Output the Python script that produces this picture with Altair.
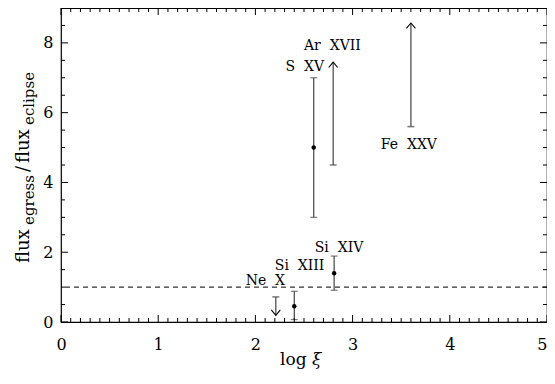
import altair as alt
import pandas as pd
import numpy as np

FONT = "DejaVu Serif"
LINE = "#444444"
SP = "\u00a0\u00a0"

# ---- data ----
det_ion = ["Si XIII", "Si XIV", "S XV"]
det_logxi = [2.40, 2.81, 2.60]
det_ratio = [0.45, 1.40, 5.00]
det_low = [0.07, 0.91, 3.00]
det_high = [0.88, 1.89, 7.00]

lim_ion = ["Ne X", "Ar XVII", "Fe XXV"]
lim_logxi = [2.21, 2.80, 3.60]
lim_bound = [0.72, 4.50, 5.60]
lim_tip = [0.19, 7.45, 8.57]
lim_dir = ["down", "up", "up"]

lab_text = ["Ne" + SP + "X", "Si" + SP + "XIII", "Si" + SP + "XIV",
            "S" + SP + "XV", "Ar" + SP + "XVII", "Fe" + SP + "XXV"]
lab_x = [1.90, 2.20, 2.61, 2.31, 2.50, 3.29]
lab_y = [1.07, 1.50, 2.00, 7.19, 7.81, 4.95]

unity = [1.0]

x_major = [0, 1, 2, 3, 4, 5]
y_major = [0, 2, 4, 6, 8]
x_minor = [round(v, 1) for v in np.arange(0, 5.01, 0.1) if abs(v - round(v)) > 1e-6]
y_minor = [v for v in np.arange(0, 9.01, 0.5) if v not in y_major]

W, H = 486, 314

det = pd.DataFrame({"ion": det_ion, "x": det_logxi, "r": det_ratio, "lo": det_low, "hi": det_high})
caps = pd.DataFrame({"x": det_logxi * 2, "y": det_low + det_high})
lim = pd.DataFrame({"ion": lim_ion, "x": lim_logxi, "b": lim_bound, "t": lim_tip, "d": lim_dir})
labs = pd.DataFrame({"t": lab_text, "x": lab_x, "y": lab_y})

XS = alt.Scale(domain=[0, 5], nice=False, zero=False)
YS = alt.Scale(domain=[0, 9], nice=False, zero=False)
xaxis = alt.Axis(values=x_major, ticks=False, domain=False, grid=False, labelFont=FONT,
                 labelFontSize=16, labelPadding=14, labelColor="black", title=None,
                 format="d", labelFlush=False, labelOverlap=False,
                 labelAlign={"condition": {"test": "datum.value == 5", "value": "right"},
                             "value": "center"})
yaxis = alt.Axis(values=y_major, ticks=False, domain=False, grid=False, labelFont=FONT,
                 labelFontSize=16, labelPadding=8, labelColor="black", title=None,
                 format="d", labelOverlap=False)


def xe(f):
    return alt.X(f, type="quantitative", scale=XS, axis=xaxis)


def ye(f):
    return alt.Y(f, type="quantitative", scale=YS, axis=yaxis)


layers = []

# dashed unity line
layers.append(alt.Chart(pd.DataFrame({"y": unity})).mark_rule(
    color="black", strokeDash=[5, 4], strokeWidth=1).encode(y=ye("y")))

# error bars
layers.append(alt.Chart(det).mark_rule(color=LINE, strokeWidth=1.2).encode(
    x=xe("x"), y=ye("lo"), y2="hi"))
layers.append(alt.Chart(caps).mark_tick(color=LINE, orient="horizontal", size=7, thickness=1.2).encode(
    x=xe("x"), y=ye("y")))
layers.append(alt.Chart(det).mark_circle(color="black", size=20, opacity=1).encode(
    x=xe("x"), y=ye("r")))

# limits
layers.append(alt.Chart(lim).mark_rule(color=LINE, strokeWidth=1.2).encode(
    x=xe("x"), y=ye("b"), y2="t"))
layers.append(alt.Chart(lim).mark_tick(color=LINE, orient="horizontal", size=7, thickness=1.5).encode(
    x=xe("x"), y=ye("b")))
layers.append(alt.Chart(lim).transform_filter(alt.datum.d == "up").mark_point(
    shape="M -1 1.2 L 0 0 L 1 1.2", filled=False, color="black", strokeWidth=1.1,
    size=81, opacity=1).encode(x=xe("x"), y=ye("t")))
layers.append(alt.Chart(lim).transform_filter(alt.datum.d == "down").mark_point(
    shape="M -1 -1.2 L 0 0 L 1 -1.2", filled=False, color="black", strokeWidth=1.1,
    size=81, opacity=1).encode(x=xe("x"), y=ye("t")))

# ion labels
layers.append(alt.Chart(labs).mark_text(font=FONT, fontSize=14, align="left",
                                        baseline="alphabetic", color="black").encode(
    x=xe("x"), y=ye("y"), text="t"))

# inward ticks
def xticks(vals, length):
    d = pd.DataFrame({"x": vals})
    b = alt.Chart(d).mark_rule(color="black", strokeWidth=1).encode(
        x=xe("x"), y=alt.value(H), y2=alt.value(H - length))
    t = alt.Chart(d).mark_rule(color="black", strokeWidth=1).encode(
        x=xe("x"), y=alt.value(0), y2=alt.value(length))
    return [b, t]


def yticks(vals, length):
    d = pd.DataFrame({"y": vals})
    l = alt.Chart(d).mark_rule(color="black", strokeWidth=1).encode(
        y=ye("y"), x=alt.value(0), x2=alt.value(length))
    r = alt.Chart(d).mark_rule(color="black", strokeWidth=1).encode(
        y=ye("y"), x=alt.value(W), x2=alt.value(W - length))
    return [l, r]


layers += xticks(x_major, 7) + xticks(x_minor, 4) + yticks(y_major, 7) + yticks(y_minor, 4)

# axis titles as text pieces
def txt(s, x, y, size, angle=0, italic=False):
    return alt.Chart(pd.DataFrame({"s": [s]})).mark_text(
        font=FONT, fontSize=size, align="left", baseline="alphabetic", color="black",
        angle=angle, fontStyle="italic" if italic else "normal").encode(
        text="s", x=alt.value(x), y=alt.value(y))

layers.append(txt("log", 219, 357, 17))
layers.append(txt("ξ", 251, 357, 17, italic=True))

# y title: flux_egress / flux_eclipse
layers.append(txt("flux", -32, 255, 18, angle=270))
layers.append(txt("egress", -27, 217, 15, angle=270))
layers.append(txt("/", -32, 164, 18, angle=270))
layers.append(txt("flux", -32, 155, 18, angle=270))
layers.append(txt("eclipse", -27, 117, 15, angle=270))

chart = alt.layer(*layers).properties(
    width=W, height=H,
    autosize=alt.AutoSizeParams(type="none"),
    padding={"left": 53, "top": 0, "right": 0, "bottom": 54},
).configure_view(stroke="black", strokeWidth=1.2)

chart.save("out.html", embed_options={"renderer": "svg", "actions": False})
